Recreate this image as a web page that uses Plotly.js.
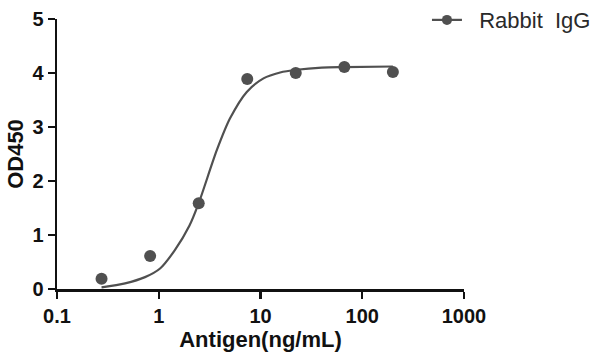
<!DOCTYPE html>
<html>
<head>
<meta charset="utf-8">
<script src="https://cdn.plot.ly/plotly-3.0.1.min.js"></script>
<style>html,body{margin:0;padding:0;background:#fff;}#chart{width:599px;height:360px;}</style>
</head>
<body>
<div id="chart"></div>
<script>
// Measured points
const antigenConc = [0.274, 0.823, 2.47, 7.41, 22.2, 66.7, 200];
const od450 = [0.19, 0.61, 1.59, 3.89, 4.00, 4.11, 4.02];
// Fitted curve
const curveConc = [0.274, 0.467, 0.733, 1.03, 1.44, 2.0, 2.47, 3.72, 5.02, 7.33, 10.7, 15.6, 22.7, 40, 66.7, 200];
const curveOD =   [0.03, 0.105, 0.22, 0.38, 0.72, 1.17, 1.59, 2.57, 3.16, 3.65, 3.90, 4.01, 4.06, 4.10, 4.11, 4.12];
const xTickVals = [0.1, 1, 10, 100, 1000];
const xTickText = ['0.1', '1', '10', '100', '1000'];
const yTickVals = [0, 1, 2, 3, 4, 5];
const seriesName = '\u00a0\u00a0Rabbit\u00a0\u00a0IgG';

const gray = '#505050';
const traces = [
  {x: curveConc, y: curveOD, mode: 'lines', line: {color: gray, width: 2.2, shape: 'spline', smoothing: 0.8}, showlegend: false, hoverinfo: 'skip'},
  {x: antigenConc, y: od450, mode: 'markers', marker: {color: gray, size: 12}, showlegend: false},
  {x: [null], y: [null], mode: 'lines+markers', name: seriesName, line: {color: gray, width: 2.2}, marker: {color: gray, size: 10}, showlegend: true}
];
const fam = 'Liberation Sans, Arial, sans-serif';
const tickFont = {family: fam, size: 20, color: '#111', weight: 'bold'};
const titleFont = {family: fam, size: 22, color: '#111', weight: 'bold'};
const layout = {
  width: 599, height: 360,
  margin: {l: 57, r: 135, t: 19, b: 71, autoexpand: false},
  paper_bgcolor: '#fff', plot_bgcolor: '#fff',
  hovermode: false,
  showlegend: true,
  legend: {x: 0.909, xanchor: 'left', y: 0.996, yanchor: 'middle', bgcolor: 'rgba(0,0,0,0)',
           font: {family: fam, size: 22, color: '#2a2a2a'}},
  xaxis: {type: 'log', range: [-1, 3], tickvals: xTickVals, ticktext: xTickText,
          showline: true, linecolor: '#111', linewidth: 2.5, ticks: 'outside', ticklen: 7, tickwidth: 2.2, tickcolor: '#111',
          showgrid: false, zeroline: false, tickfont: tickFont,
          title: {text: 'Antigen(ng/mL)', font: titleFont, standoff: 6}},
  yaxis: {range: [0, 5], tickvals: yTickVals, showline: true, linecolor: '#111', linewidth: 2.5,
          ticks: 'outside', ticklen: 7, tickwidth: 2.2, tickcolor: '#111',
          showgrid: false, zeroline: false, tickfont: tickFont,
          title: {text: 'OD450', font: titleFont, standoff: 3}}
};
Plotly.newPlot('chart', traces, layout, {displayModeBar: false, staticPlot: true});
</script>
</body>
</html>
